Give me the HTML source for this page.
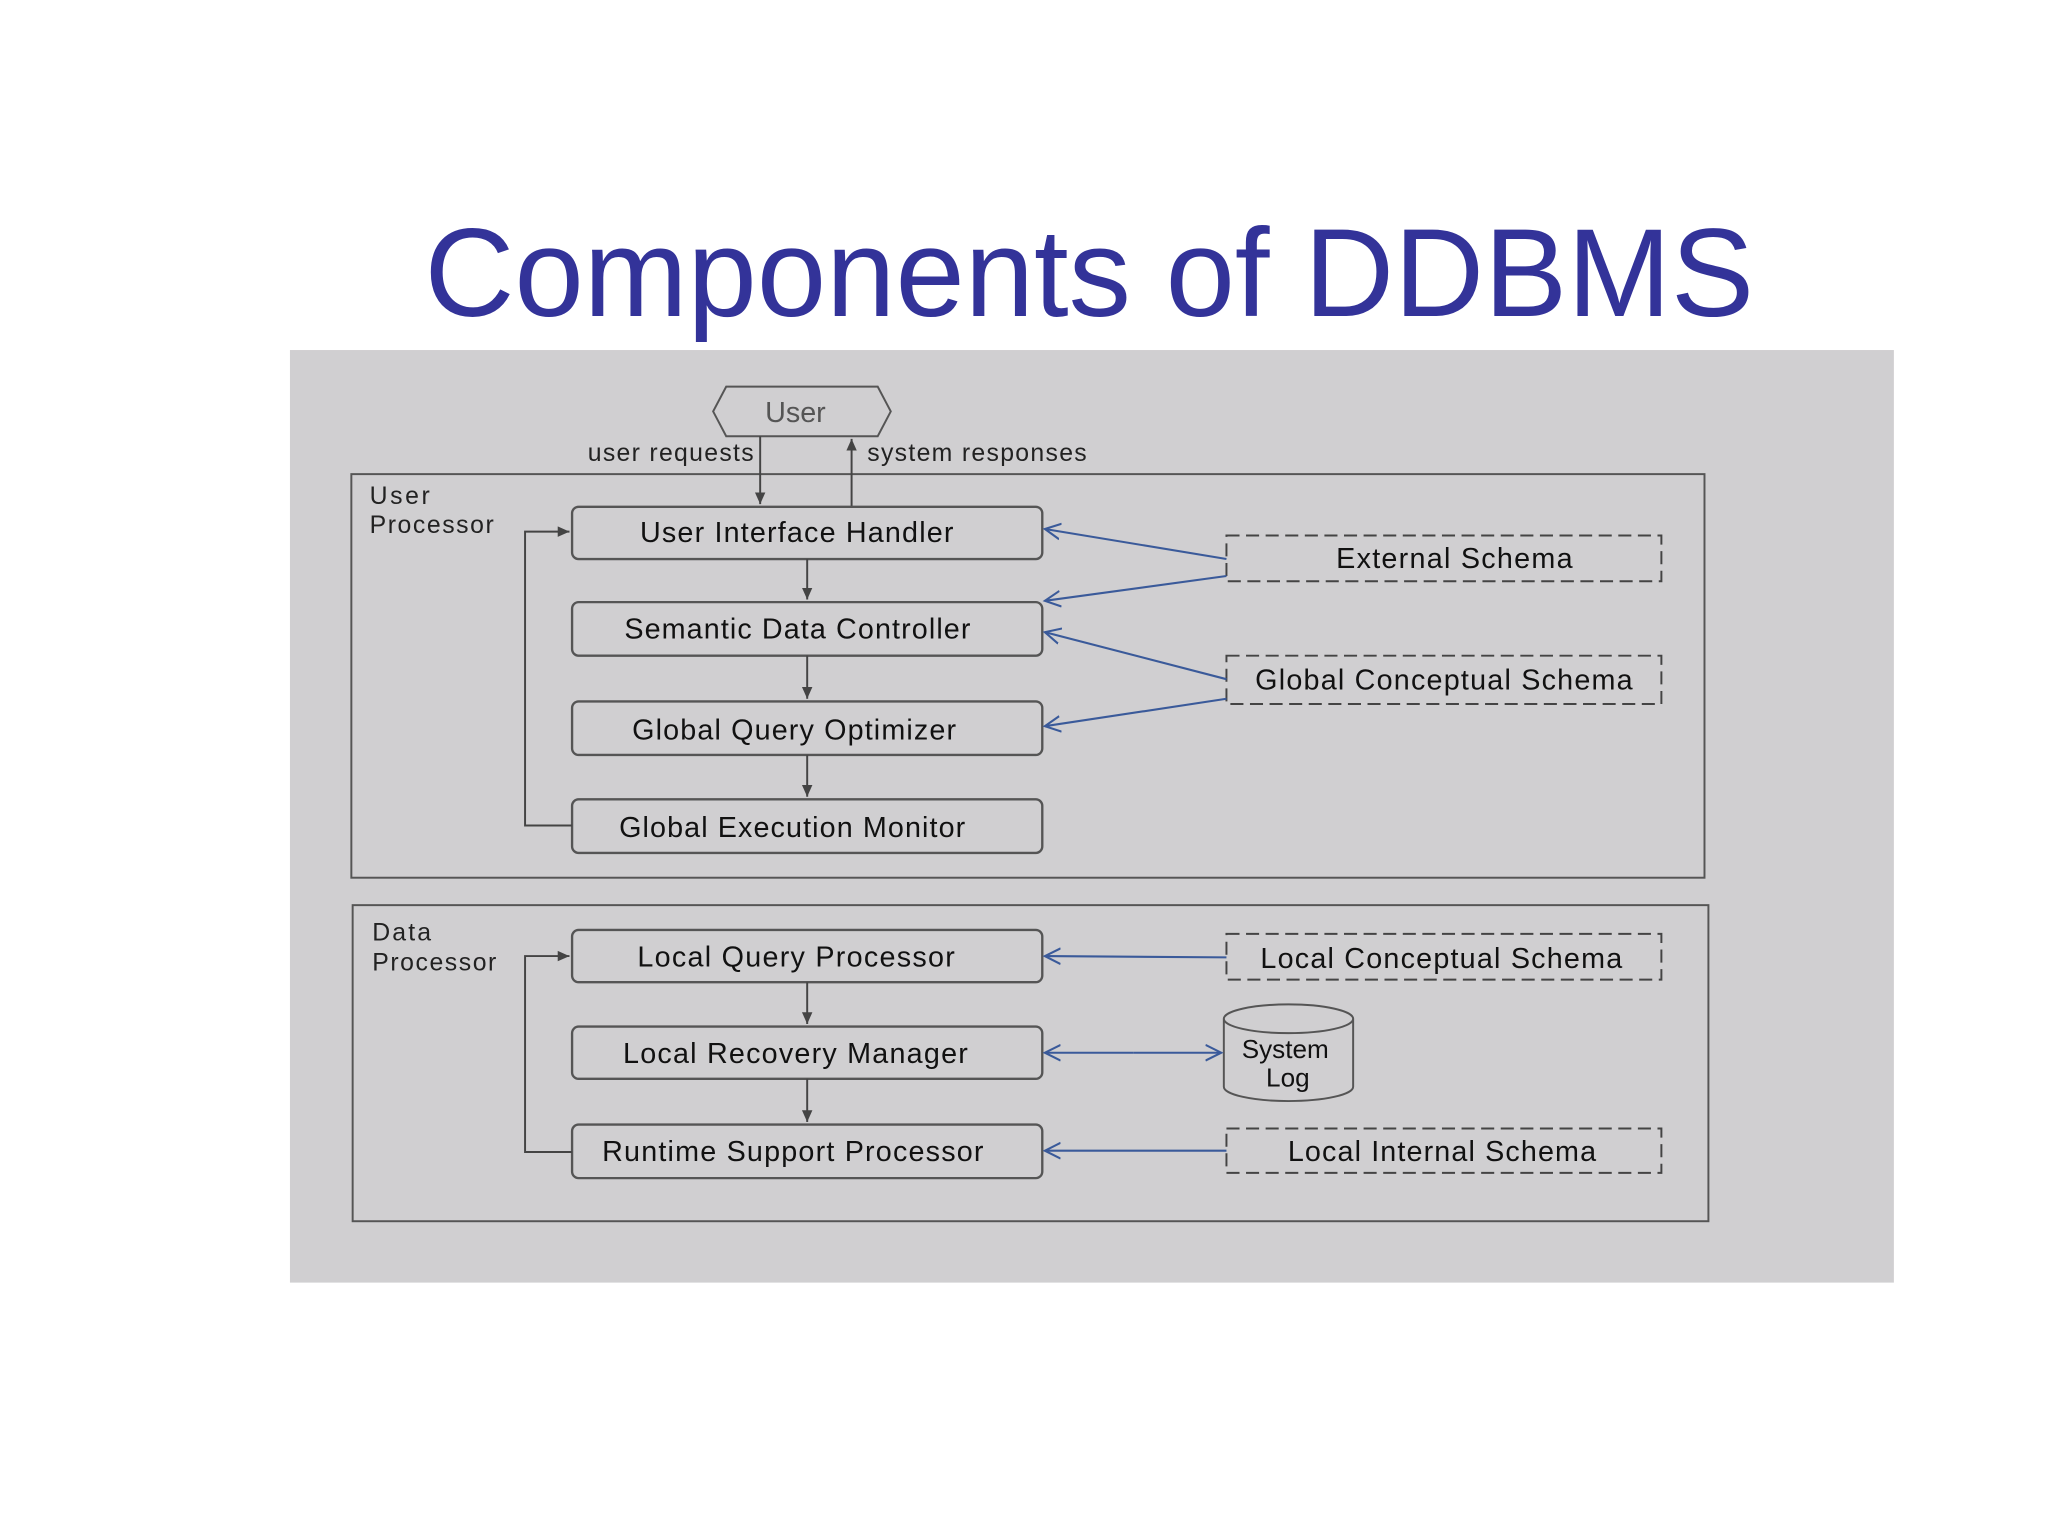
<!DOCTYPE html>
<html><head><meta charset="utf-8"><style>
html,body{margin:0;padding:0;background:#fff;}
svg{display:block;}
text{font-family:"Liberation Sans",sans-serif;}
</style></head><body>
<svg width="2048" height="1536" viewBox="0 0 1568 1176" xmlns="http://www.w3.org/2000/svg">
<defs>
<marker id="ak" markerWidth="10" markerHeight="10" refX="9" refY="5" orient="auto" markerUnits="userSpaceOnUse"><path d="M0,1 L9,5 L0,9 z" fill="#444"/></marker>
<marker id="ab" markerWidth="14" markerHeight="14" refX="12" refY="7" orient="auto" markerUnits="userSpaceOnUse"><path d="M0,1 L12,7 L0,13" fill="none" stroke="#3a5a9a" stroke-width="1.6"/></marker>
</defs>
<rect width="1568" height="1176" fill="#fff"/>
<text x="325" y="242" font-size="96" fill="#333399" textLength="1018" lengthAdjust="spacingAndGlyphs">Components of DDBMS</text>
<rect x="222" y="268" width="1228" height="714" fill="#d0cfd1"/>
<rect x="269" y="363" width="1036" height="309" fill="none" stroke="#555" stroke-width="1.5"/>
<rect x="270" y="693" width="1038" height="242" fill="none" stroke="#555" stroke-width="1.5"/>
<g font-size="19" fill="#222" lengthAdjust="spacingAndGlyphs">
<text x="283" y="386" textLength="46">User</text>
<text x="283" y="408" textLength="95">Processor</text>
<text x="285" y="720" textLength="45">Data</text>
<text x="285" y="743" textLength="95">Processor</text>
<text x="450" y="353" textLength="127">user requests</text>
<text x="664" y="353" textLength="168">system responses</text>
</g>
<polygon points="556,296 672,296 682,315 672,334 556,334 546,315" fill="#d0cfd1" stroke="#555" stroke-width="1.5"/>
<text x="609" y="323" font-size="22" fill="#555" text-anchor="middle">User</text>
<line x1="582" y1="334" x2="582" y2="386" stroke="#444" stroke-width="1.5" marker-end="url(#ak)"/>
<line x1="652" y1="388" x2="652" y2="336" stroke="#444" stroke-width="1.5" marker-end="url(#ak)"/>
<g fill="#d0cfd1" stroke="#555" stroke-width="1.8">
<rect x="438" y="388" width="360" height="40" rx="5"/>
<rect x="438" y="461" width="360" height="41" rx="5"/>
<rect x="438" y="537" width="360" height="41" rx="5"/>
<rect x="438" y="612" width="360" height="41" rx="5"/>
<rect x="438" y="712" width="360" height="40" rx="5"/>
<rect x="438" y="786" width="360" height="40" rx="5"/>
<rect x="438" y="861" width="360" height="41" rx="5"/>
</g>
<g font-size="22" fill="#111" lengthAdjust="spacingAndGlyphs">
<text x="490" y="415" textLength="240">User Interface Handler</text>
<text x="478" y="489" textLength="265">Semantic Data Controller</text>
<text x="484" y="566" textLength="248">Global Query Optimizer</text>
<text x="474" y="641" textLength="265">Global Execution Monitor</text>
<text x="488" y="740" textLength="243">Local Query Processor</text>
<text x="477" y="814" textLength="264">Local Recovery Manager</text>
<text x="461" y="889" textLength="292">Runtime Support Processor</text>
<text x="1023" y="435" textLength="181">External Schema</text>
<text x="961" y="528" textLength="289">Global Conceptual Schema</text>
<text x="965" y="741" textLength="277">Local Conceptual Schema</text>
<text x="986" y="889" textLength="236">Local Internal Schema</text>
</g>
<g stroke="#444" stroke-width="1.5" fill="none">
<line x1="618" y1="428" x2="618" y2="459" marker-end="url(#ak)"/>
<line x1="618" y1="502" x2="618" y2="535" marker-end="url(#ak)"/>
<line x1="618" y1="578" x2="618" y2="610" marker-end="url(#ak)"/>
<line x1="618" y1="752" x2="618" y2="784" marker-end="url(#ak)"/>
<line x1="618" y1="826" x2="618" y2="859" marker-end="url(#ak)"/>
<polyline points="438,632 402,632 402,407 436,407" marker-end="url(#ak)"/>
<polyline points="438,882 402,882 402,732 436,732" marker-end="url(#ak)"/>
</g>
<g fill="none" stroke="#444" stroke-width="1.5" stroke-dasharray="10,5">
<rect x="939" y="410" width="333" height="35"/>
<rect x="939" y="502" width="333" height="37"/>
<rect x="939" y="715" width="333" height="35"/>
<rect x="939" y="864" width="333" height="34"/>
</g>
<path d="M937,780 L937,832 A49.5,11 0 0 0 1036,832 L1036,780" fill="#d0cfd1" stroke="#555" stroke-width="1.5"/>
<ellipse cx="986.5" cy="780" rx="49.5" ry="11" fill="#d0cfd1" stroke="#555" stroke-width="1.5"/>
<text x="984" y="810" font-size="20" fill="#111" text-anchor="middle">System</text>
<text x="986" y="832" font-size="20" fill="#111" text-anchor="middle">Log</text>
<g stroke="#3a5a9a" stroke-width="1.6" fill="none">
<line x1="939" y1="428" x2="800" y2="405" marker-end="url(#ab)"/>
<line x1="939" y1="441" x2="800" y2="460" marker-end="url(#ab)"/>
<line x1="939" y1="520" x2="800" y2="484" marker-end="url(#ab)"/>
<line x1="939" y1="535" x2="800" y2="556" marker-end="url(#ab)"/>
<line x1="939" y1="733" x2="800" y2="732" marker-end="url(#ab)"/>
<line x1="868" y1="806" x2="800" y2="806" marker-end="url(#ab)"/>
<line x1="868" y1="806" x2="935" y2="806" marker-end="url(#ab)"/>
<line x1="939" y1="881" x2="800" y2="881" marker-end="url(#ab)"/>
</g>
</svg>
</body></html>
